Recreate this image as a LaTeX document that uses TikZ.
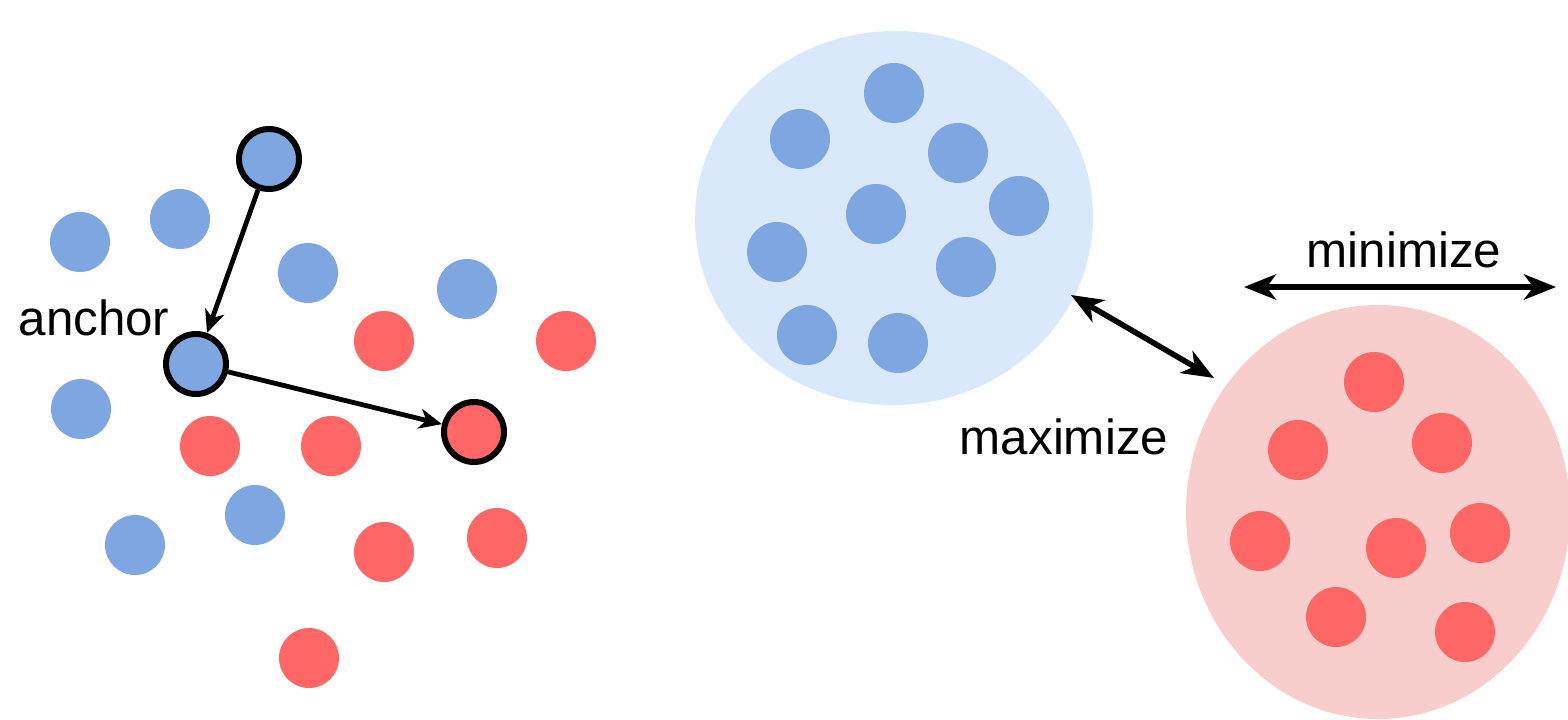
\documentclass[tikz,border=0pt]{standalone}
\usepackage{fontspec}
\setmainfont{Liberation Sans}
\usetikzlibrary{arrows.meta}
\definecolor{bdot}{HTML}{7EA6E0}
\definecolor{rdot}{HTML}{FF6666}
\definecolor{bfill}{HTML}{DAE8FC}
\definecolor{rfill}{HTML}{F8CECC}
\tikzset{
  dot/.style={circle, minimum size=45pt, inner sep=0pt, outer sep=0pt},
  bluedot/.style={dot, fill=bdot},
  reddot/.style={dot, fill=rdot},
  ring/.style={line width=4.5pt, draw=black, outer sep=2.25pt},
  smallarr/.style={line width=3.6pt, -{Stealth[length=17pt, width=15pt, inset=5pt]}},
  bigarr/.style={line width=4.2pt, {Stealth[length=24pt, width=19pt, inset=7pt]}-{Stealth[length=24pt, width=19pt, inset=7pt]}},
  lbl/.style={font=\fontsize{37}{40}\selectfont, inner sep=0pt}
}
\begin{document}
\begin{tikzpicture}[x=0.75pt, y=-0.75pt]
\useasboundingbox (0,0) rectangle (1568,719);
% clusters
\fill[bfill, rotate around={3:(894,218)}] (894,218) ellipse [x radius=199, y radius=187];
\begin{scope}
\clip (0,0) rectangle (1568,719);
\fill[rfill] (1378,512) ellipse [x radius=192, y radius=207];
\end{scope}
% left scatter
\node[bluedot] (b1) at (80,242) {};
\node[bluedot] (b2) at (180,219) {};
\node[bluedot] (b3) at (308,273) {};
\node[bluedot] (b4) at (467,289) {};
\node[bluedot] (b5) at (81,409) {};
\node[bluedot] (b6) at (255,515) {};
\node[bluedot] (b7) at (135,545) {};
\node[bluedot, ring] (pos) at (269,159) {};
\node[bluedot, ring] (anc) at (196,364) {};
\node[reddot] (r1) at (384,341) {};
\node[reddot] (r2) at (566,341) {};
\node[reddot] (r3) at (210,446) {};
\node[reddot] (r4) at (331,446) {};
\node[reddot] (r5) at (384,552) {};
\node[reddot] (r6) at (497,538) {};
\node[reddot] (r7) at (309,658) {};
\node[reddot, ring] (neg) at (474,432) {};
\node[lbl] (anclbl) at (94,318) {anchor};
\draw[smallarr] (pos) -- (anc);
\draw[smallarr] (anc) -- (neg);
% blue cluster
\node[bluedot] (c1) at (894,93) {};
\node[bluedot] (c2) at (800,139) {};
\node[bluedot] (c3) at (958,153) {};
\node[bluedot] (c4) at (876,214) {};
\node[bluedot] (c5) at (1019,206) {};
\node[bluedot] (c6) at (777,252) {};
\node[bluedot] (c7) at (966,267) {};
\node[bluedot] (c8) at (807,335) {};
\node[bluedot] (c9) at (898,343) {};
% red cluster
\node[reddot] (d1) at (1374,382) {};
\node[reddot] (d2) at (1298,450) {};
\node[reddot] (d3) at (1442,443) {};
\node[reddot] (d4) at (1260,541) {};
\node[reddot] (d5) at (1396,548) {};
\node[reddot] (d6) at (1480,533) {};
\node[reddot] (d7) at (1336,617) {};
\node[reddot] (d8) at (1465,632) {};
% arrows
\coordinate (maxA) at (1071,295);
\coordinate (maxB) at (1214,378);
\coordinate (minA) at (1244,287);
\coordinate (minB) at (1556,287);
\draw[bigarr] (maxA) -- (maxB);
\draw[bigarr] (minA) -- (minB);
\node[lbl] (maxlbl) at (1064,437) {maximize};
\node[lbl] (minlbl) at (1404,250) {minimize};
\end{tikzpicture}
\end{document}
